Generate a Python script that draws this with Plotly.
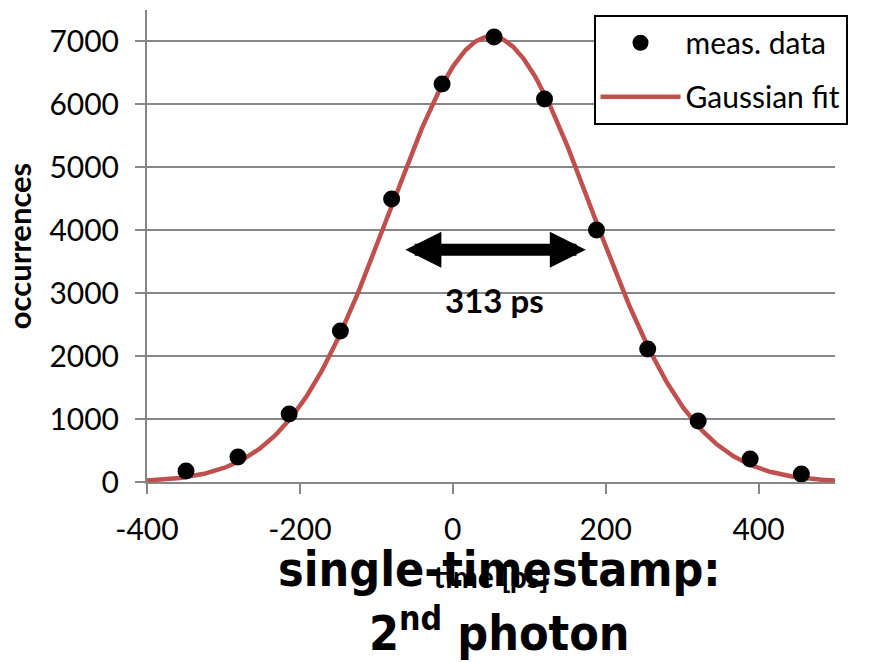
import numpy as np
import plotly.graph_objects as go

# measured histogram (time bin centre in ps, counts)
time_ps = [-349, -281, -214, -147, -80, -14, 54, 120, 188, 255, 321, 389, 456]
occurrences = [175, 397, 1081, 2400, 4497, 6325, 7071, 6086, 4004, 2113, 969, 365, 127]

# Gaussian fit parameters
fit_amplitude = 7080
fit_center = 50
fit_fwhm = 313

# arrow marking the width, and its label
arrow_x = [-64, 174]
arrow_y = 3690
label_x = 54
label_y = 2890

x_ticks = [-400, -200, 0, 200, 400]
x_tick_text = ["-400", "-200", "0", "200", "400"]
y_ticks = [0, 1000, 2000, 3000, 4000, 5000, 6000, 7000]

sigma = fit_fwhm / (2 * np.sqrt(2 * np.log(2)))
fit_x = np.linspace(-400, 500, 400)
fit_y = fit_amplitude * np.exp(-((fit_x - fit_center) ** 2) / (2 * sigma ** 2))

FONT = "Lato, 'Open Sans', sans-serif"
TITLE_FONT = "'DejaVu Sans Condensed', 'Liberation Sans Narrow', sans-serif"

fig = go.Figure()
fig.add_trace(go.Scatter(
    x=fit_x, y=fit_y, mode="lines", name="Gaussian fit",
    line=dict(color="#C0504D", width=4.5), legendgroup="b", legendrank=2,
))
fig.add_trace(go.Scatter(
    x=time_ps, y=occurrences, mode="markers", name="meas. data",
    marker=dict(color="black", size=17), legendgroup="a", legendrank=1,
))

fig.add_annotation(
    x=arrow_x[1], y=arrow_y, ax=arrow_x[0], ay=arrow_y,
    xref="x", yref="y", axref="x", ayref="y",
    text="", showarrow=True, arrowside="end+start",
    arrowhead=2, arrowsize=0.6, arrowwidth=12, arrowcolor="black",
)
fig.add_annotation(
    x=label_x, y=label_y, xref="x", yref="y", text="<b>313 ps</b>",
    showarrow=False, font=dict(family=FONT, size=33, color="black"),
)

fig.add_annotation(
    x=0.513, y=-0.185, xref="paper", yref="paper", yanchor="middle",
    text="<b>single-timestamp:</b>", showarrow=False,
    font=dict(family=TITLE_FONT, size=48, color="black"),
)
fig.add_annotation(
    x=0.513, y=-0.313, xref="paper", yref="paper", yanchor="middle",
    text="<b>2<sup>nd</sup> photon</b>", showarrow=False,
    font=dict(family=TITLE_FONT, size=48, color="black"),
)

axis_common = dict(
    showline=True, linecolor="#868686", linewidth=2,
    ticks="outside", tickcolor="#868686", ticklen=10, tickwidth=2,
    ticklabelstandoff=10,
    tickfont=dict(family=FONT, size=30, color="black"),
    zeroline=False,
)

fig.update_layout(
    width=875, height=662,
    margin=dict(l=145, r=40, t=10, b=180),
    paper_bgcolor="white", plot_bgcolor="white",
    showlegend=True,
    legend=dict(
        x=0.649, y=0.99, xanchor="left", yanchor="top",
        bgcolor="white", bordercolor="black", borderwidth=2,
        font=dict(family=FONT, size=30, color="black"),
        tracegroupgap=12, itemwidth=80,
    ),
    xaxis=dict(
        range=[-400, 500], tickvals=x_ticks, ticktext=x_tick_text,
        showgrid=False,
        title=dict(text="<b>time [ps]</b>", standoff=22,
                   font=dict(family=FONT, size=30, color="black")),
        **axis_common,
    ),
    yaxis=dict(
        range=[0, 7500], tickvals=y_ticks, showgrid=True,
        gridcolor="#868686", gridwidth=2,
        title=dict(text="<b>occurrences</b>", standoff=18,
                   font=dict(family=FONT, size=31, color="black")),
        **axis_common,
    ),
)

fig.write_html("out.html")
